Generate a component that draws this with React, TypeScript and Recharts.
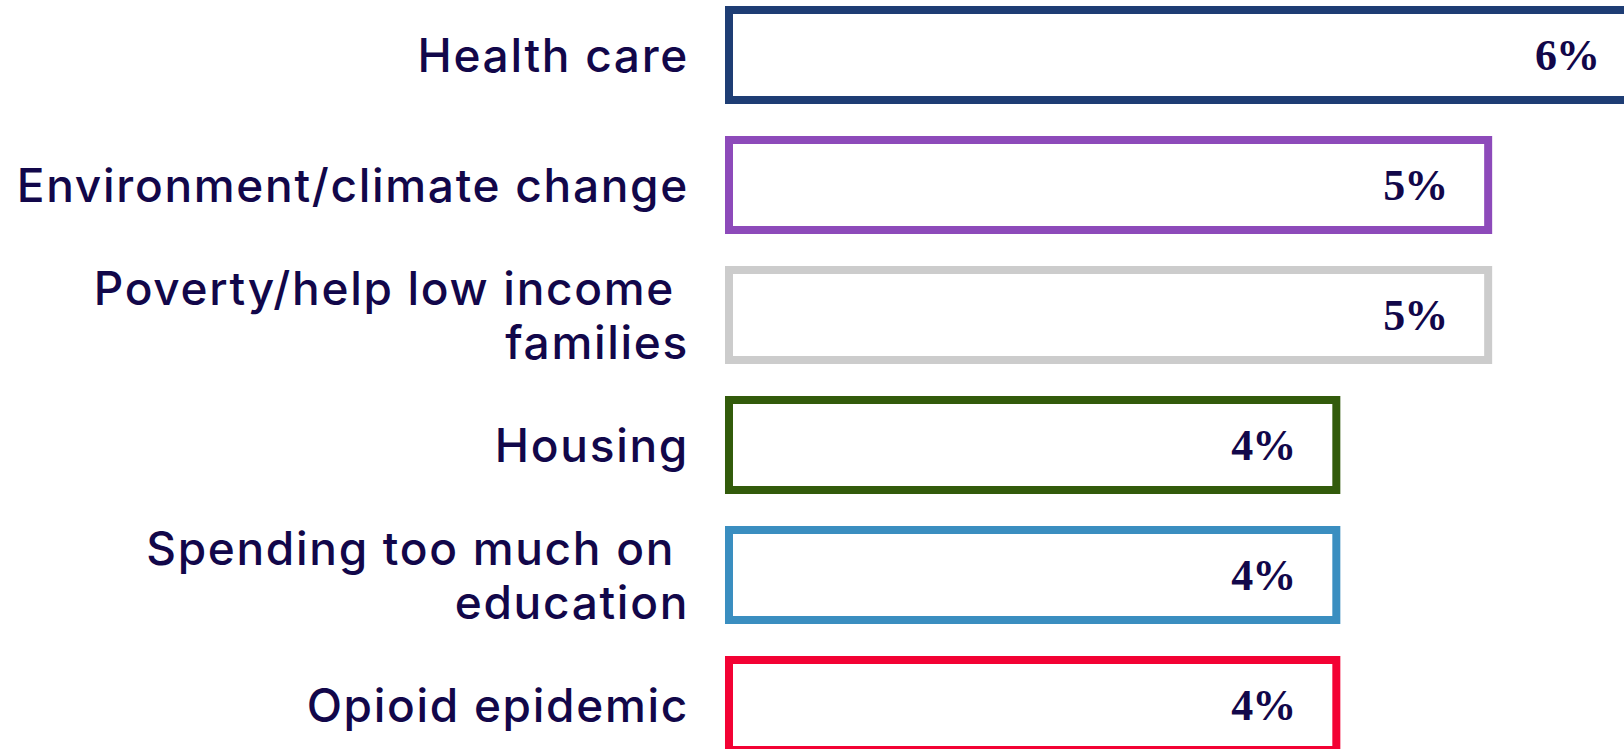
import React from "react";
import { BarChart, Bar, XAxis, YAxis, Cell, LabelList } from "recharts";

const categories = [
  "Health care",
  "Environment/climate change",
  "Poverty/help low income \nfamilies",
  "Housing",
  "Spending too much on \neducation",
  "Opioid epidemic",
];
const values = [6, 5, 5, 4, 4, 4];
const valueLabels = ["6%", "5%", "5%", "4%", "4%", "4%"];
const barColors = ["#1e3d74", "#8d4aba", "#cccccc", "#325b0b", "#3a8ec0", "#f30234"];

const TEXT_COLOR = "#12074a";

const data = categories.map((name, i) => ({
  name,
  value: values[i],
  label: valueLabels[i],
}));

const YTick = (props: any) => {
  const { x, y, payload } = props;
  const lines = String(payload.value).split("\n");
  const L = 54;
  return (
    <text
      x={x}
      y={y}
      textAnchor="end"
      fill={TEXT_COLOR}
      fontFamily="Inter, 'Open Sans', sans-serif"
      fontWeight={500}
      fontSize={46}
      letterSpacing={1.7}
    >
      {lines.map((ln, i) => (
        <tspan key={i} x={x} y={y + 17 + (i - (lines.length - 1) / 2) * L}>
          {ln.replace(/ $/, "\u00A0")}
        </tspan>
      ))}
    </text>
  );
};

const ValueLabel = (props: any) => {
  const { x, y, width, height, value } = props;
  return (
    <text
      x={Number(x) + Number(width) - 41}
      y={Number(y) + Number(height) / 2}
      textAnchor="end"
      dominantBaseline="central"
      fill={TEXT_COLOR}
      fontFamily="'Liberation Serif', 'DejaVu Serif', serif"
      fontWeight={700}
      fontSize={44}
      letterSpacing={-1}
    >
      {value}
    </text>
  );
};

export default function App() {
  return (
    <div
      style={{
        position: "absolute",
        left: 0,
        top: 0,
        width: 1624,
        height: 749,
        overflow: "hidden",
        background: "#ffffff",
      }}
    >
      <div style={{ position: "absolute", left: 0, top: -10 }}>
        <BarChart
          width={1640}
          height={780}
          data={data}
          layout="vertical"
          margin={{ top: 0, right: 0, bottom: 0, left: 0 }}
          barSize={90}
        >
          <XAxis type="number" domain={[0, 6]} hide />
          <YAxis
            type="category"
            dataKey="name"
            width={729}
            axisLine={false}
            tickLine={false}
            tickSize={0}
            tickMargin={40}
            interval={0}
            tick={<YTick />}
          />
          <Bar dataKey="value" fill="#ffffff" strokeWidth={8} isAnimationActive={false}>
            {data.map((d, i) => (
              <Cell key={d.name} fill="#ffffff" stroke={barColors[i]} strokeWidth={8} />
            ))}
            <LabelList dataKey="label" content={<ValueLabel />} />
          </Bar>
        </BarChart>
      </div>
    </div>
  );
}
